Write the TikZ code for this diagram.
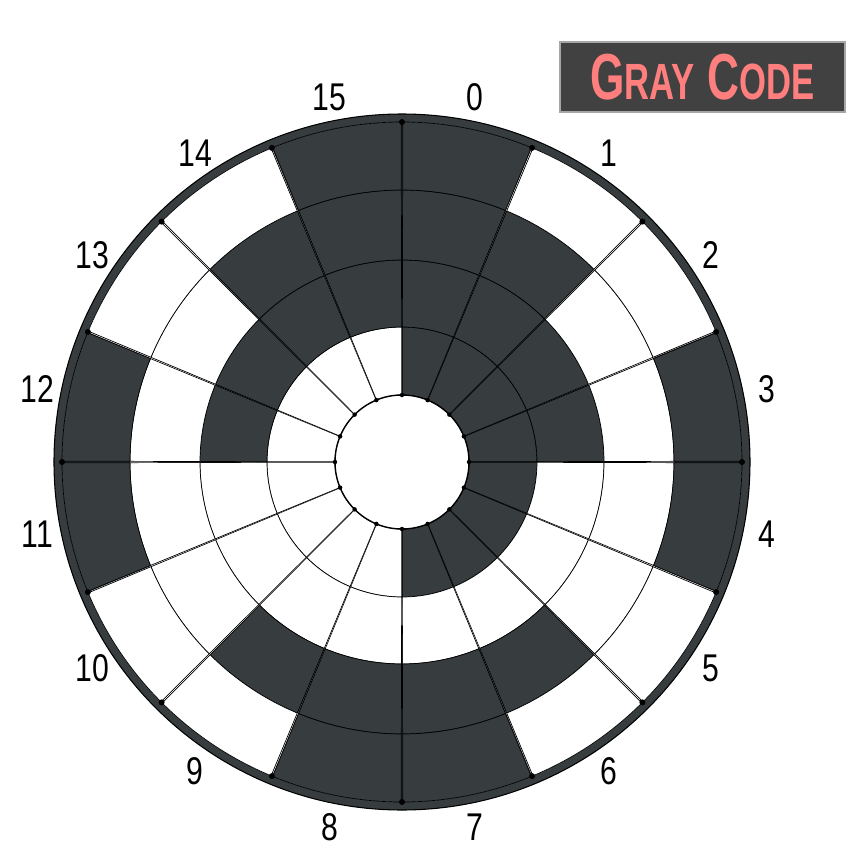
\documentclass[tikz,border=0pt]{standalone}
\usepackage{fontspec}
\setmainfont{Liberation Sans}
\usetikzlibrary{positioning}
\definecolor{cdark}{HTML}{373D3F}
\definecolor{ctitle}{HTML}{FF7F7F}
\definecolor{cbox}{HTML}{414141}

\begin{document}
\begin{tikzpicture}[
    cell/.style={draw=black, line width=0.4pt},
    num/.style={font=\fontsize{22}{22}\selectfont, inner sep=0pt},
    knot/.style={fill=black},
    titlebox/.style={fill=cbox, draw=gray!70, line width=0.6pt, minimum width=5.7cm, minimum height=1.4cm, text=ctitle, inner sep=0pt, font=\bfseries}
]
\useasboundingbox (-8.04,-8.04) rectangle (9.28,9.24);
% outer rim
\fill[cdark, even odd rule] (0,0) circle (6.96) (0,0) circle (6.8);
\draw[line width=0.6pt] (0,0) circle (6.96);
% sectors, inner ring = msb, dark = 0
\foreach \k/\msb/\bitb/\bitc/\lsb in {0/0/0/0/0, 1/0/0/0/1, 2/0/0/1/1, 3/0/0/1/0,
    4/0/1/1/0, 5/0/1/1/1, 6/0/1/0/1, 7/0/1/0/0, 8/1/1/0/0, 9/1/1/0/1,
    10/1/1/1/1, 11/1/1/1/0, 12/1/0/1/0, 13/1/0/1/1, 14/1/0/0/1, 15/1/0/0/0} {
  \pgfmathsetmacro{\aone}{90-22.5*\k}
  \pgfmathsetmacro{\atwo}{\aone-22.5}
  \pgfmathsetmacro{\bone}{\aone-0.14}
  \pgfmathsetmacro{\btwo}{\atwo+0.14}
  \foreach \bit/\rin/\rout in {\msb/1.34/2.7, \bitb/2.7/4.04, \bitc/4.04/5.44, \lsb/5.44/6.8} {
    \ifnum\bit=0\relax \def\cfill{cdark}\else \def\cfill{white}\fi
    \fill[\cfill] (\aone:\rin) arc[start angle=\aone, end angle=\atwo, radius=\rin]
      -- (\atwo:\rout) arc[start angle=\atwo, end angle=\aone, radius=\rout] -- cycle;
    \draw[cell] (\bone:\rin) arc[start angle=\bone, end angle=\btwo, radius=\rin]
      -- (\btwo:\rout) arc[start angle=\btwo, end angle=\bone, radius=\rout] -- cycle;
  }
  \pgfmathsetmacro{\amid}{\aone-11.25}
  \node[num] (n\k) at (\amid:7.44) {\scalebox{0.78}[1]{\k}};
}
% hub
\draw[fill=white, line width=0.8pt] (0,0) circle (1.34);
\foreach \j in {0,...,15} {
  \fill[knot] (90-22.5*\j:6.8) circle (0.06);
  \fill[knot] (90-22.5*\j:1.34) circle (0.045);
}
% title
\node[titlebox] (title) at (6.01,7.7) {\scalebox{0.68}[1]{%
  {\fontsize{37}{37}\selectfont G}{\fontsize{29}{29}\selectfont RAY}%
  \hspace*{11pt}%
  {\fontsize{37}{37}\selectfont C}{\fontsize{29}{29}\selectfont ODE}}};
\end{tikzpicture}
\end{document}
